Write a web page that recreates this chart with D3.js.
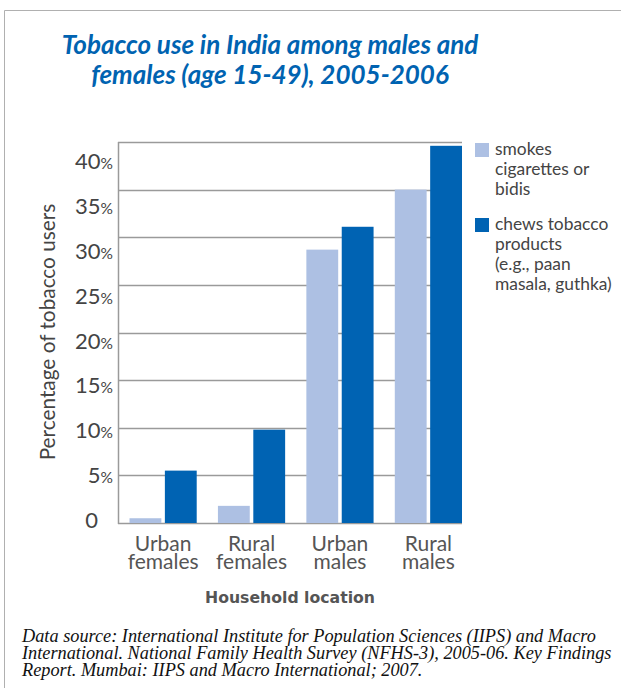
<!DOCTYPE html>
<html>
<head>
<meta charset="utf-8">
<script src="https://cdn.jsdelivr.net/npm/d3@7"></script>
<style>
  body { margin: 0; background: #fff; }
  svg { display: block; }
</style>
</head>
<body>
<svg></svg>
<script>
// data
var categories = [["Urban", "females"], ["Rural", "females"], ["Urban", "males"], ["Rural", "males"]];
var seriesNames = ["smokes", "chews"];
var smokes = [0.5, 1.8, 28.7, 35.0];
var chews = [5.5, 9.8, 31.1, 39.6];
var yTicks = [0, 5, 10, 15, 20, 25, 30, 35, 40];
var legendLabels = [
  ["smokes", "cigarettes or", "bidis"],
  ["chews tobacco", "products", "(e.g., paan", "masala, guthka)"]
];
var titleLines = ["Tobacco use in India among males and", "females (age 15-49), 2005-2006"];
var sourceLines = [
  "Data source: International Institute for Population Sciences (IIPS) and Macro",
  "International. National Family Health Survey (NFHS-3), 2005-06. Key Findings",
  "Report. Mumbai: IIPS and Macro International; 2007."
];

var svgWidth = 621, svgHeight = 688;
var colors = { smokes: "#adc0e3", chews: "#0063b3" };
var font = "Lato, 'Open Sans', sans-serif";

var svg = d3.select("svg")
  .attr("width", svgWidth)
  .attr("height", svgHeight);

// frame
svg.append("path")
  .attr("d", "M4.5,688 V10.5 H621")
  .attr("fill", "none")
  .attr("stroke", "#b0b0b0")
  .attr("stroke-width", 1);

// title
svg.selectAll(".title")
  .data(titleLines)
  .enter()
  .append("text")
  .attr("class", "title")
  .attr("x", 270)
  .attr("y", function(d, i) { return 54 + i * 30; })
  .attr("text-anchor", "middle")
  .attr("font-family", font)
  .attr("font-weight", 700)
  .attr("font-style", "italic")
  .attr("font-size", 26)
  .attr("fill", "#0063b1")
  .text(function(d) { return d; });

var plotLeft = 118, plotRight = 462, plotTop = 142, plotBottom = 523;

var yScale = d3.scaleLinear()
  .domain([0, 40])
  .range([plotBottom, plotTop]);

// the tick labels in the original drift away from the gridlines, so they get their own scale
var yLabelScale = d3.scaleLinear()
  .domain([0, 40])
  .range([528, 169]);

var x0 = d3.scaleBand()
  .domain(d3.range(categories.length))
  .range([129.5, 462])
  .paddingInner(0.24)
  .paddingOuter(0);

var x1 = d3.scaleBand()
  .domain(seriesNames)
  .range([0, x0.bandwidth()])
  .paddingInner(0.1);

// gridlines
svg.append("g")
  .selectAll("line")
  .data(yTicks)
  .enter()
  .append("line")
  .attr("x1", plotLeft)
  .attr("x2", plotRight)
  .attr("y1", function(d) { return Math.round(yScale(d)) + 0.5; })
  .attr("y2", function(d) { return Math.round(yScale(d)) + 0.5; })
  .attr("stroke", "#9a9a9a")
  .attr("stroke-width", 1.5);

// y axis line
svg.append("line")
  .attr("x1", plotLeft + 0.5).attr("x2", plotLeft + 0.5)
  .attr("y1", plotTop).attr("y2", plotBottom + 1)
  .attr("stroke", "#9a9a9a")
  .attr("stroke-width", 1.5);

// bars
var rows = categories.map(function(c, i) {
  return [{ key: "smokes", value: smokes[i], i: i }, { key: "chews", value: chews[i], i: i }];
});

svg.append("g")
  .selectAll("g")
  .data(rows)
  .enter()
  .append("g")
  .attr("transform", function(d, i) { return "translate(" + x0(i) + ",0)"; })
  .selectAll("rect")
  .data(function(d) { return d; })
  .enter()
  .append("rect")
  .attr("x", function(d) { return x1(d.key); })
  .attr("width", x1.bandwidth())
  .attr("y", function(d) { return yScale(d.value); })
  .attr("height", function(d) { return yScale(0) - yScale(d.value); })
  .attr("fill", function(d) { return colors[d.key]; });

// y tick labels
var yLab = svg.append("g")
  .selectAll("text")
  .data(yTicks)
  .enter()
  .append("text")
  .attr("x", function(d) { return d === 0 ? 98 : 113; })
  .attr("y", function(d) { return yLabelScale(d); })
  .attr("text-anchor", "end")
  .attr("font-family", font)
  .attr("fill", "#444");
yLab.append("tspan")
  .attr("font-size", 22)
  .text(function(d) { return d; });
yLab.append("tspan")
  .attr("font-size", 15.5)
  .text(function(d) { return d === 0 ? "" : "%"; });

// y axis title
svg.append("text")
  .attr("transform", "translate(55,332) rotate(-90)")
  .attr("text-anchor", "middle")
  .attr("font-family", font)
  .attr("font-size", 20.8)
  .attr("fill", "#444")
  .text("Percentage of tobacco users");

// x labels
svg.append("g")
  .selectAll("text")
  .data(categories)
  .enter()
  .append("text")
  .attr("text-anchor", "middle")
  .attr("font-family", font)
  .attr("font-size", 21)
  .attr("fill", "#555")
  .each(function(d, i) {
    var cx = x0(i) + x0.bandwidth() / 2;
    d3.select(this).selectAll("tspan")
      .data(d)
      .enter()
      .append("tspan")
      .attr("x", cx)
      .attr("y", function(t, j) { return 551 + j * 18; })
      .text(function(t) { return t; });
  });

svg.append("text")
  .attr("x", 290)
  .attr("y", 603)
  .attr("text-anchor", "middle")
  .attr("font-family", "'DejaVu Sans', sans-serif")
  .attr("font-weight", 700)
  .attr("font-size", 15.7)
  .attr("fill", "#555")
  .text("Household location");

// legend
var legendTop = [143, 218];
var leg = svg.append("g")
  .selectAll("g")
  .data(seriesNames)
  .enter()
  .append("g")
  .attr("transform", function(d, i) { return "translate(475," + legendTop[i] + ")"; });
leg.append("rect")
  .attr("width", 14)
  .attr("height", 14)
  .attr("fill", function(d) { return colors[d]; });
leg.append("text")
  .attr("font-family", font)
  .attr("font-size", 17.4)
  .attr("fill", "#444")
  .each(function(d, i) {
    d3.select(this).selectAll("tspan")
      .data(legendLabels[i])
      .enter()
      .append("tspan")
      .attr("x", 20)
      .attr("y", function(t, j) { return 12 + j * 20; })
      .text(function(t) { return t; });
  });

// source
svg.append("g")
  .selectAll("text")
  .data(sourceLines)
  .enter()
  .append("text")
  .attr("x", 22)
  .attr("y", function(d, i) { return 642 + i * 17; })
  .attr("font-family", "'Liberation Serif', serif")
  .attr("font-style", "italic")
  .attr("font-size", 18.3)
  .attr("fill", "#111")
  .text(function(d) { return d; });
</script>
</body>
</html>
